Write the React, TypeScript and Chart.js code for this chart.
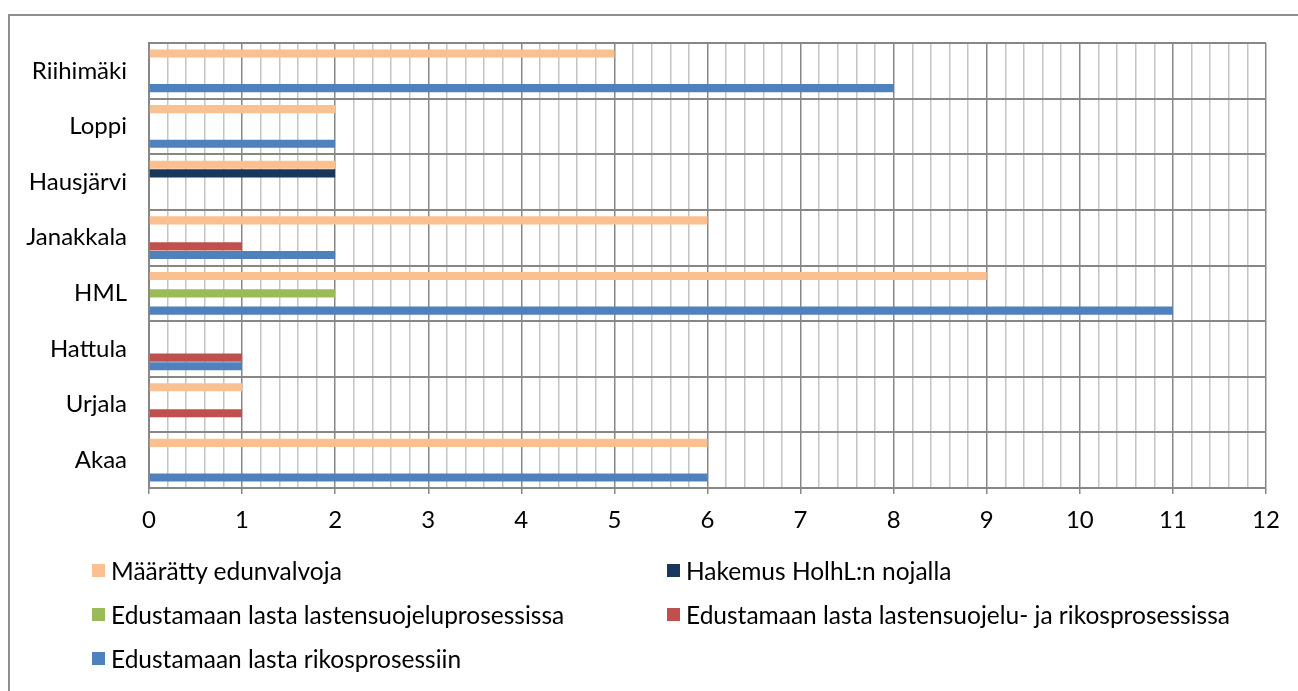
import React, { useEffect, useRef } from "react";
import { Chart, registerables } from "chart.js";

Chart.register(...registerables);

const categories = ["Riihimäki", "Loppi", "Hausjärvi", "Janakkala", "HML", "Hattula", "Urjala", "Akaa"];
const maarattyEdunvalvoja = [5, 2, 2, 6, 9, null, 1, 6];
const hakemusHolhL = [null, null, 2, null, null, null, null, null];
const lastensuojeluprosessi = [null, null, null, null, 2, null, null, null];
const lastensuojeluJaRikos = [null, null, null, 1, null, 1, 1, null];
const rikosprosessi = [8, 2, null, 2, 11, 1, null, 6];

const seriesNames = [
  "Määrätty edunvalvoja",
  "Hakemus HolhL:n nojalla",
  "Edustamaan lasta lastensuojeluprosessissa",
  "Edustamaan lasta lastensuojelu- ja rikosprosessissa",
  "Edustamaan lasta rikosprosessiin",
];
const seriesColors = ["#FAC090", "#17375E", "#9BBB59", "#C0504D", "#4F81BD"];
const seriesData = [maarattyEdunvalvoja, hakemusHolhL, lastensuojeluprosessi, lastensuojeluJaRikos, rikosprosessi];

const xMin = 0;
const xMax = 12;
const minorStep = 0.2;

const FONT = "Lato, 'Open Sans', sans-serif";
const MAJOR = "#878787";
const MINOR = "#c4c4c4";

const isInt = (v: number) => Math.abs(v - Math.round(v)) < 1e-6;

// legend placement (2 columns)
const legendCols = [92, 667];
const legendRows = [570, 614, 658];

export default function App() {
  const ref = useRef<HTMLCanvasElement | null>(null);

  useEffect(() => {
    if (!ref.current) return;
    const chart = new Chart(ref.current, {
      type: "bar",
      data: {
        labels: categories,
        datasets: seriesNames.map((name, i) => ({
          label: name,
          data: seriesData[i],
          backgroundColor: seriesColors[i],
          borderWidth: 0,
          categoryPercentage: 0.78,
          barPercentage: 0.94,
        })),
      },
      options: {
        indexAxis: "y",
        animation: false,
        responsive: false,
        maintainAspectRatio: false,
        layout: { padding: { left: 0, top: 43, right: 32, bottom: 163 } },
        plugins: { legend: { display: false }, tooltip: { enabled: false } },
        scales: {
          x: {
            type: "linear",
            min: xMin,
            max: xMax,
            ticks: {
              stepSize: minorStep,
              autoSkip: false,
              maxRotation: 0,
              padding: 12,
              color: "#000",
              font: { family: FONT, size: 24 },
              callback: (v: any) => (isInt(Number(v)) ? String(Math.round(Number(v))) : ""),
            },
            grid: {
              color: (ctx: any) => (ctx.tick && isInt(ctx.tick.value) ? MAJOR : MINOR),
              lineWidth: 1.5,
              tickLength: 6,
              tickColor: (ctx: any) => (ctx.tick && isInt(ctx.tick.value) ? MAJOR : "rgba(0,0,0,0)"),
            },
            border: { color: MAJOR, width: 2 },
            afterFit: (s: any) => {
              s.height = 40;
            },
          },
          y: {
            type: "category",
            offset: true,
            ticks: {
              color: "#000",
              padding: 22,
              font: { family: FONT, size: 24 },
            },
            grid: {
              offset: true,
              color: MAJOR,
              lineWidth: 2,
              drawTicks: false,
            },
            border: { color: MAJOR, width: 2 },
            afterFit: (s: any) => {
              s.width = 149;
            },
          },
        },
      },
    });
    return () => chart.destroy();
  }, []);

  return (
    <div style={{ position: "fixed", left: 0, top: 0, width: 1298, height: 691, background: "#fff", overflow: "hidden" }}>
      <div
        style={{
          position: "absolute",
          left: 8,
          top: 14,
          width: 1400,
          height: 800,
          borderLeft: "2px solid #8e8e8e",
          borderTop: "2px solid #8e8e8e",
          boxSizing: "border-box",
        }}
      />
      <canvas ref={ref} width={1298} height={691} style={{ position: "absolute", left: 0, top: 0 }} />
      {seriesNames.map((name, i) => {
        const col = legendCols[i % 2];
        const row = legendRows[Math.floor(i / 2)];
        return (
          <div
            key={name}
            style={{
              position: "absolute",
              left: col,
              top: row - 15,
              height: 30,
              display: "flex",
              alignItems: "center",
              fontFamily: FONT,
              fontSize: 24.5,
              color: "#000",
              whiteSpace: "nowrap",
            }}
          >
            <span style={{ display: "inline-block", width: 13, height: 13, background: seriesColors[i], marginRight: 6 }} />
            <span>{name}</span>
          </div>
        );
      })}
    </div>
  );
}
